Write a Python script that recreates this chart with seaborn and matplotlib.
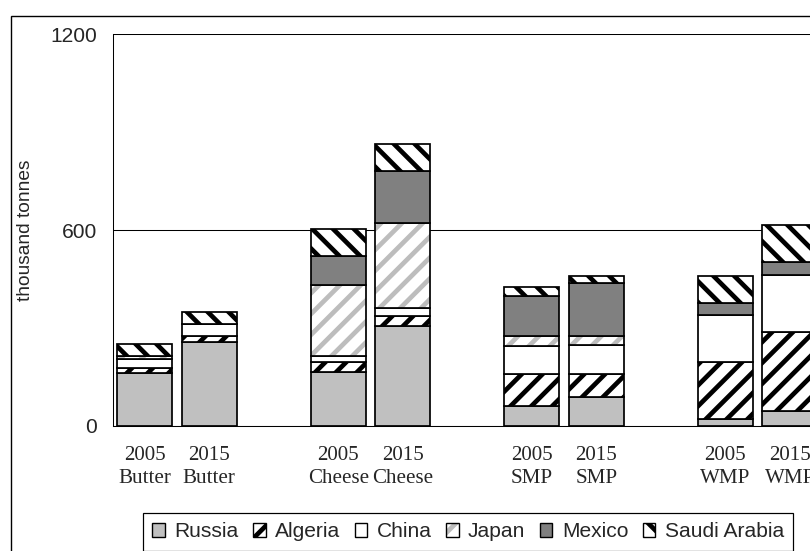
import numpy as np
import pandas as pd
import matplotlib
matplotlib.use("Agg")
import matplotlib.pyplot as plt
import matplotlib.patches as mpatches
from matplotlib.legend_handler import HandlerTuple
import seaborn as sns

# Import volumes (thousand tonnes) by destination, one value per bar:
# Butter 2005, Butter 2015, Cheese 2005, Cheese 2015, SMP 2005, SMP 2015, WMP 2005, WMP 2015
years = ["2005", "2015"]
products = ["Butter", "Cheese", "SMP", "WMP"]
countries = ["Russia", "Algeria", "China", "Japan", "Mexico", "Saudi Arabia"]

russia = [161, 258, 166, 306, 59, 88, 21, 46]
algeria = [17, 17, 29, 31, 99, 70, 174, 241]
china = [26, 37, 19, 25, 87, 90, 145, 175]
japan = [11, 0, 217, 258, 30, 27, 0, 0]
mexico = [0, 0, 90, 161, 122, 161, 35, 39]
saudi = [34, 38, 83, 82, 29, 22, 84, 114]

y_ticks = [0, 600, 1200]
y_label = "thousand tonnes"

series = [russia, algeria, china, japan, mexico, saudi]

# bar labels plus empty spacer categories between product groups
bar_labels = [f"{y}\n{p}" for p in products for y in years]
order = []
for i, p in enumerate(products):
    order += [f"{y}\n{p}" for y in years]
    if i < len(products) - 1:
        order.append(" " * (i + 1))

rows = []
for name, vals in zip(countries, series):
    for lab, v in zip(bar_labels, vals):
        rows.append({"bar": lab, "country": name, "value": v})
df = pd.DataFrame(rows)

# fill / hatch styling for each series
styles = {
    "Russia":       dict(color="#C0C0C0", hatch=None, hatch_color="black"),
    "Algeria":      dict(color="white", hatch="//", hatch_color="black"),
    "China":        dict(color="white", hatch=None, hatch_color="black"),
    "Japan":        dict(color="white", hatch="//", hatch_color="#BDBDBD"),
    "Mexico":       dict(color="#808080", hatch=None, hatch_color="black"),
    "Saudi Arabia": dict(color="white", hatch="\\\\", hatch_color="black"),
}

DPI = 125
sns.set_style("white")
plt.rcParams["font.family"] = ["Liberation Sans", "DejaVu Sans"]
plt.rcParams["hatch.linewidth"] = 2.7

fig = plt.figure(figsize=(810 / DPI, 551 / DPI), dpi=DPI)
ax = fig.add_axes([112.5 / 810, 1 - 425.7 / 551, 709.5 / 810, (425.7 - 34.3) / 551])

edge_lw = 1.0
bottom = np.zeros(len(bar_labels))
for name in countries:
    sub = df[df["country"] == name]
    st = styles[name]
    vals = sub["value"].to_numpy(dtype=float)
    if st["hatch_color"] != "black":
        # hatch in its own colour, then a black outline on top
        sns.barplot(data=sub, x="bar", y="value", order=order, ax=ax,
                    color=st["color"], saturation=1, errorbar=None, width=0.85,
                    bottom=bottom, edgecolor=st["hatch_color"], hatch=st["hatch"],
                    linewidth=0)
        sns.barplot(data=sub, x="bar", y="value", order=order, ax=ax,
                    color="black", saturation=1, errorbar=None, width=0.85,
                    bottom=bottom, facecolor="none", edgecolor="black",
                    linewidth=edge_lw)
    else:
        sns.barplot(data=sub, x="bar", y="value", order=order, ax=ax,
                    color=st["color"], saturation=1, errorbar=None, width=0.85,
                    bottom=bottom, edgecolor="black", hatch=st["hatch"],
                    linewidth=edge_lw)
    bottom = bottom + vals

# axes styling
ax.set_xlim(-0.5, len(order) - 0.5)
ax.set_ylim(y_ticks[0], y_ticks[-1])
ax.set_yticks(y_ticks)
ax.set_yticklabels([str(t) for t in y_ticks], fontsize=12.1)
ax.set_ylabel(y_label, fontsize=11, labelpad=9)
ax.set_xlabel("")
ax.set_xticks(range(len(order)))
ax.set_xticklabels(order, fontsize=12.1, fontfamily="Liberation Serif", linespacing=1.32)
ax.set_xticks(np.arange(-0.5, len(order), 1), minor=True)
ax.tick_params(axis="x", which="major", length=0, pad=11.5)
ax.tick_params(axis="x", which="minor", length=3.5, width=0.6, direction="out", color="black")
ax.tick_params(axis="y", length=4, width=0.6, direction="out", color="black", pad=5)
ax.yaxis.grid(True, color="black", linewidth=0.6)
ax.set_axisbelow(True)
for side in ["top", "right"]:
    ax.spines[side].set_visible(False)
for side in ["left", "bottom"]:
    ax.spines[side].set_color("black")
    ax.spines[side].set_linewidth(0.6)
    ax.spines[side].set_zorder(5)

# legend
handles = []
for name in countries:
    st = styles[name]
    if st["hatch_color"] != "black":
        h = (mpatches.Patch(facecolor=st["color"], edgecolor=st["hatch_color"],
                            hatch=st["hatch"], linewidth=0),
             mpatches.Patch(facecolor="none", edgecolor="black", linewidth=0.8))
    else:
        h = mpatches.Patch(facecolor=st["color"], edgecolor="black",
                           hatch=st["hatch"], linewidth=0.8)
    handles.append(h)

leg = fig.legend(handles, countries, loc="upper left",
                 bbox_to_anchor=(143 / 810, 1 - 513 / 551), ncol=6,
                 frameon=True, fancybox=False, shadow=False, edgecolor="black",
                 fontsize=12.1, handlelength=0.6, handleheight=0.6,
                 handletextpad=0.45, columnspacing=0.68, borderpad=0.45,
                 borderaxespad=0, handler_map={tuple: HandlerTuple(ndivide=1)})
leg.get_frame().set_linewidth(0.7)
leg.get_frame().set_alpha(1)

# chart area border
fig.patches.append(mpatches.Rectangle((11 / 810, -0.05), 1.1, 1 - 16 / 551 + 0.05,
                                      transform=fig.transFigure, fill=False,
                                      edgecolor="black", linewidth=0.8))

fig.savefig("out.png", dpi=DPI)
